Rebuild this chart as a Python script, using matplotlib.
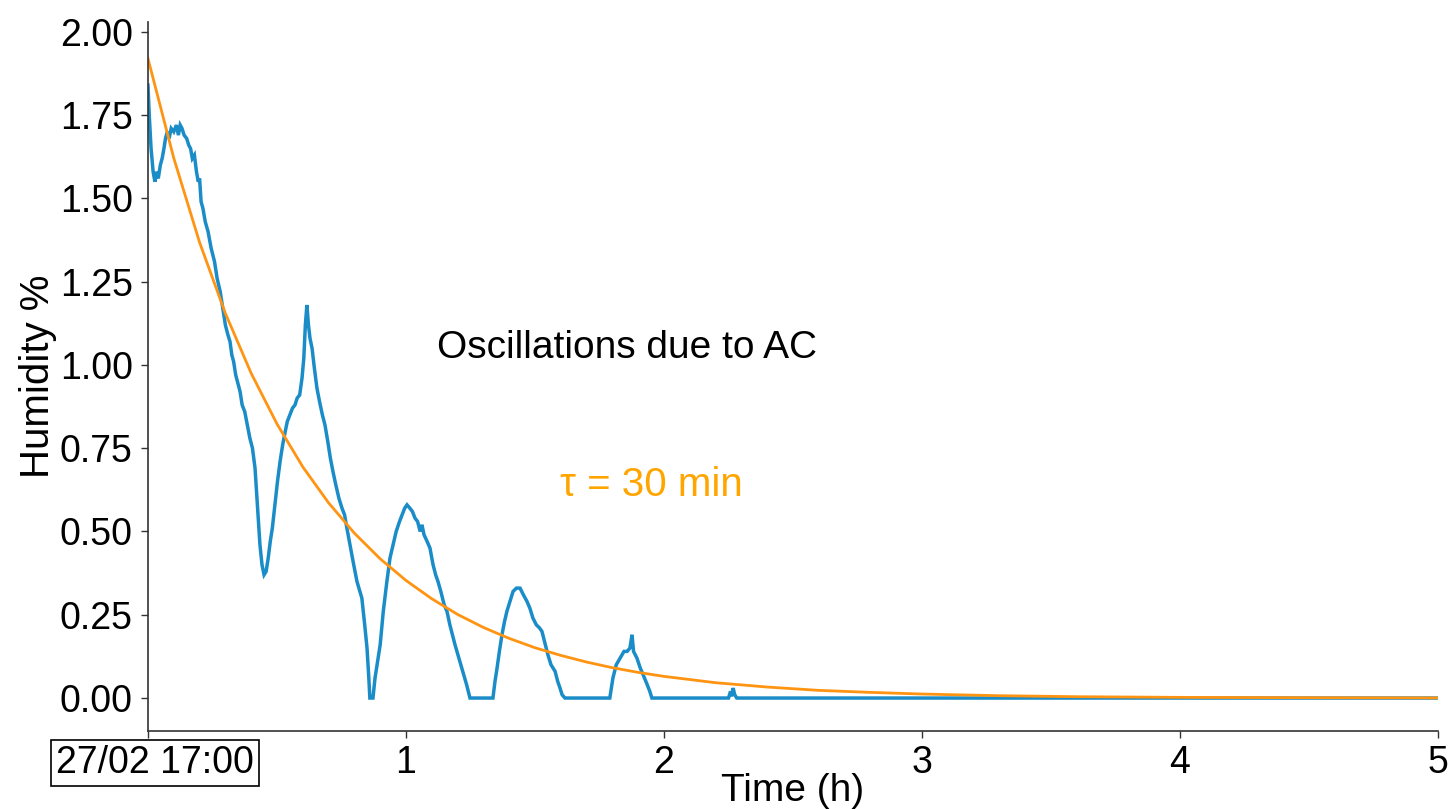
import matplotlib
matplotlib.use("Agg")
import matplotlib.pyplot as plt
import matplotlib.transforms as mtransforms

plt.rcParams['font.family'] = ['Liberation Sans', 'DejaVu Sans']

# Measured humidity (blue), time in hours
blue_t = [0.000, 0.005, 0.012, 0.020, 0.027, 0.033, 0.040, 0.048, 0.055, 0.062,
          0.068, 0.075, 0.082, 0.090, 0.100, 0.110, 0.118, 0.125, 0.132, 0.140,
          0.150, 0.158, 0.165, 0.172, 0.180, 0.188, 0.195, 0.200, 0.206, 0.213,
          0.222, 0.233, 0.245, 0.258, 0.268, 0.280, 0.290, 0.300, 0.310, 0.318,
          0.325, 0.332, 0.340, 0.350, 0.357, 0.365, 0.375, 0.385, 0.395, 0.405,
          0.415, 0.425, 0.434, 0.442, 0.450, 0.458, 0.466, 0.474, 0.482, 0.492,
          0.502, 0.512, 0.522, 0.532, 0.540, 0.550, 0.560, 0.570, 0.578, 0.588,
          0.597, 0.604, 0.610, 0.616, 0.622, 0.628, 0.636, 0.645, 0.655, 0.665,
          0.676, 0.686, 0.697, 0.707, 0.717, 0.728, 0.740, 0.752, 0.762, 0.771,
          0.783, 0.795, 0.810, 0.829, 0.840, 0.849, 0.856, 0.860, 0.872, 0.880,
          0.890, 0.900, 0.912, 0.926, 0.938, 0.950, 0.962, 0.975, 0.985, 0.995,
          1.004, 1.015, 1.025, 1.035, 1.045, 1.055, 1.062, 1.070, 1.082, 1.093,
          1.105, 1.115, 1.124, 1.135, 1.148, 1.159, 1.170, 1.180, 1.190, 1.205,
          1.220, 1.235, 1.248, 1.337, 1.345, 1.353, 1.362, 1.372, 1.382, 1.391,
          1.403, 1.415, 1.428, 1.442, 1.455, 1.469, 1.480, 1.492, 1.505, 1.518,
          1.527, 1.540, 1.550, 1.562, 1.578, 1.588, 1.597, 1.605, 1.616, 1.790,
          1.796, 1.802, 1.815, 1.830, 1.845, 1.857, 1.868, 1.876, 1.882, 1.895,
          1.908, 1.919, 1.935, 1.945, 1.953, 2.250, 2.258, 2.262, 2.268, 2.274,
          2.282, 5.000]
blue_y = [1.84, 1.75, 1.65, 1.58, 1.55, 1.58, 1.56, 1.60, 1.62, 1.65,
          1.68, 1.70, 1.68, 1.71, 1.70, 1.72, 1.69, 1.72, 1.71, 1.69,
          1.68, 1.66, 1.65, 1.62, 1.63, 1.58, 1.55, 1.56, 1.49, 1.47,
          1.43, 1.40, 1.35, 1.31, 1.26, 1.22, 1.17, 1.12, 1.09, 1.07,
          1.03, 1.01, 0.97, 0.94, 0.92, 0.88, 0.86, 0.82, 0.78, 0.75,
          0.69, 0.57, 0.46, 0.40, 0.37, 0.38, 0.42, 0.47, 0.51, 0.58,
          0.65, 0.71, 0.76, 0.80, 0.83, 0.85, 0.87, 0.88, 0.90, 0.91,
          0.96, 1.02, 1.12, 1.18, 1.12, 1.08, 1.05, 0.99, 0.93, 0.89,
          0.85, 0.82, 0.77, 0.72, 0.68, 0.64, 0.60, 0.57, 0.55, 0.51,
          0.46, 0.41, 0.35, 0.30, 0.22, 0.15, 0.06, 0.00, 0.00, 0.06,
          0.11, 0.16, 0.26, 0.35, 0.42, 0.46, 0.50, 0.53, 0.55, 0.57,
          0.58, 0.57, 0.56, 0.54, 0.53, 0.50, 0.52, 0.49, 0.47, 0.45,
          0.40, 0.37, 0.35, 0.32, 0.28, 0.26, 0.22, 0.19, 0.16, 0.12,
          0.08, 0.04, 0.00, 0.00, 0.05, 0.09, 0.14, 0.19, 0.23, 0.26,
          0.29, 0.32, 0.33, 0.33, 0.31, 0.29, 0.27, 0.24, 0.22, 0.21,
          0.20, 0.16, 0.13, 0.10, 0.08, 0.05, 0.03, 0.01, 0.00, 0.00,
          0.03, 0.06, 0.10, 0.12, 0.14, 0.14, 0.15, 0.19, 0.14, 0.12,
          0.09, 0.07, 0.04, 0.02, 0.00, 0.00, 0.02, 0.005, 0.03, 0.01,
          0.00, 0.00]

# Exponential fit (orange)
fit_t = [0.0, 0.1, 0.2, 0.3, 0.4, 0.5, 0.6, 0.7, 0.8, 0.9, 1.0, 1.1, 1.2, 1.3,
         1.4, 1.5, 1.6, 1.7, 1.8, 1.9, 2.0, 2.2, 2.4, 2.6, 2.8, 3.0, 3.3, 3.6,
         4.0, 4.5, 5.0]
fit_y = [1.920, 1.621, 1.368, 1.155, 0.975, 0.823, 0.694, 0.586, 0.495, 0.418,
         0.353, 0.298, 0.251, 0.212, 0.179, 0.151, 0.128, 0.108, 0.091, 0.077,
         0.065, 0.046, 0.033, 0.023, 0.017, 0.012, 0.007, 0.004, 0.002, 0.001,
         0.0004]

x_ticks = [0, 1, 2, 3, 4, 5]
x_ticklabels = ['27/02 17:00', '1', '2', '3', '4', '5']
y_ticks = [0.00, 0.25, 0.50, 0.75, 1.00, 1.25, 1.50, 1.75, 2.00]

fig = plt.figure(figsize=(14.52, 8.09), dpi=100)
ax = fig.add_axes([0.1019, 0.0964, 0.8885, 0.8766])

ax.plot(blue_t, blue_y, color='#1a8cc8', lw=2.5, solid_joinstyle='miter')
ax.plot(fit_t, fit_y, color='#ff9412', lw=2.0)

ax.set_xlim(0, 5)
ax.set_ylim(-0.099, 2.03)
ax.set_xticks(x_ticks)
ax.set_xticklabels(x_ticklabels)
ax.set_yticks(y_ticks)
ax.set_yticklabels([f'{v:.2f}' for v in y_ticks])

ax.tick_params(axis='both', labelsize=27, length=5, width=1, color='#333333')
ax.tick_params(axis='x', pad=5)
ax.tick_params(axis='y', pad=6)

lbl0 = ax.get_xticklabels()[0]
lbl0.set_bbox(dict(boxstyle='square,pad=0.13', facecolor='white', edgecolor='black', lw=1.2))
lbl0.set_transform(lbl0.get_transform() + mtransforms.ScaledTranslation(7 / 100, 0, fig.dpi_scale_trans))

for s in ['top', 'right']:
    ax.spines[s].set_visible(False)
for s in ['left', 'bottom']:
    ax.spines[s].set_color('#333333')
    ax.spines[s].set_linewidth(1.2)

ax.set_xlabel('Time (h)', fontsize=28, labelpad=-6)
ax.set_ylabel('Humidity %', fontsize=29, labelpad=2)

ax.text(1.857, 1.05, 'Oscillations due to AC', fontsize=28, ha='center', va='center', color='black')
ax.text(1.95, 0.64, 'τ = 30 min', fontsize=29, ha='center', va='center', color='#ffa500')

fig.savefig('out.png', dpi=100)
